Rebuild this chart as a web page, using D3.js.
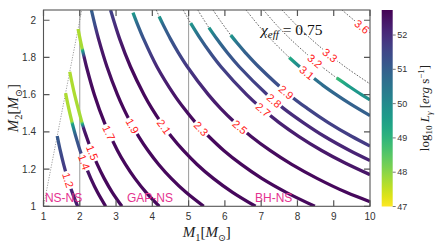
<!DOCTYPE html>
<html>
<head>
<meta charset="utf-8">
<script src="https://cdn.jsdelivr.net/npm/d3@7/dist/d3.min.js"></script>
<style>
  body { margin: 0; background: #fff; }
  svg { display: block; }
</style>
</head>
<body>
<div id="chart"></div>
<script>
// ---- data ----
const xTicks = [1, 2, 3, 4, 5, 6, 7, 8, 9, 10];
const yTicks = [1, 1.2, 1.4, 1.6, 1.8, 2];
const lumTicks = [47, 48, 49, 50, 51, 52];
const lumRange = [47, 52.73];
const regionBounds = [2, 5];
const regionNames = ['NS-NS', 'GAP-NS', 'BH-NS'];
const regionStart = [1.04, 3.30, 6.83];

// chirp-mass contours: [M1, M2, log10 L] (null = no emission, dashed)
const curve12 = [[1.378,1.378,51.1],[1.462,1.3,51.4],[1.555,1.225,51.7],[1.663,1.15,52.0],[1.791,1.075,52.2],[1.942,1.0,52.3]];
const curve14 = [[1.608,1.608,47.7],[1.691,1.53,47.7],[1.781,1.455,47.8],[1.800,1.44,49.6],[1.884,1.38,51.1],[2.008,1.3,51.4],[2.145,1.225,52.3],[2.303,1.15,52.5],[2.489,1.075,52.6],[2.713,1.0,52.6]];
const curve15 = [[1.723,1.723,47.7],[1.858,1.6,47.7],[2.053,1.455,47.8],[2.075,1.44,49.6],[2.105,1.42,52.2],[2.174,1.38,52.5],[2.322,1.3,52.6],[2.483,1.225,52.6],[2.672,1.15,52.6],[2.895,1.075,52.6],[3.161,1.0,52.6]];
const curve17 = [[1.953,1.953,47.7],[2.007,1.9,47.7],[2.063,1.849,47.8],[2.080,1.835,49.6],[2.122,1.8,52.3],[2.184,1.75,52.5],[2.402,1.6,52.6],[2.680,1.45,52.6],[3.038,1.3,52.6],[3.259,1.225,52.6],[3.519,1.15,52.6],[3.826,1.075,52.6],[4.193,1.0,52.6]];
const curve19 = [[2.320,2.055,51.0],[2.417,1.975,51.4],[2.517,1.9,52.3],[2.750,1.75,52.5],[3.038,1.6,52.6],[3.209,1.525,52.6],[3.403,1.45,52.6],[3.625,1.375,52.6],[3.880,1.3,52.6],[4.175,1.225,52.6],[4.521,1.15,52.6],[4.927,1.075,52.6],[5.416,1.0,52.6]];
const curve21 = [[2.848,2.055,51.6],[3.099,1.9,52.3],[3.398,1.75,52.6],[3.771,1.6,52.6],[3.990,1.525,52.6],[4.242,1.45,52.6],[4.525,1.375,52.6],[4.854,1.3,52.6],[5.234,1.225,52.6],[5.680,1.15,52.6],[6.211,1.075,52.6],[6.844,1.0,52.6]];
const curve23 = [[3.466,2.041,49.6],[3.597,1.975,50.9],[3.758,1.9,51.3],[4.127,1.75,52.1],[4.598,1.6,52.4],[4.878,1.525,52.5],[5.190,1.45,52.6],[5.558,1.375,52.6],[5.968,1.3,52.6],[6.454,1.225,52.6],[7.015,1.15,52.6],[7.690,1.075,52.6],[8.479,1.0,52.6]];
const curve25 = [[4.109,2.055,null],[4.188,2.02,49.6],[4.300,1.975,50.9],[4.499,1.9,51.2],[4.719,1.825,51.5],[4.965,1.75,51.8],[5.544,1.6,52.2],[5.886,1.525,52.35],[6.278,1.45,52.45],[6.724,1.375,52.5],[7.244,1.3,52.55],[7.841,1.225,52.6],[8.540,1.15,52.6],[9.345,1.075,52.6],[10,1.025,52.6]];
const curve27 = [[4.850,2.055,null],[4.951,2.02,null],[5.056,1.985,49.7],[5.329,1.9,50.9],[5.596,1.825,51.3],[5.893,1.75,51.6],[6.599,1.6,52.0],[7.017,1.525,52.1],[7.495,1.45,52.2],[8.043,1.375,52.3],[8.666,1.3,52.35],[9.3,1.234,52.4],[10,1.170,52.4]];
const curve28 = [[5.253,2.055,null],[5.395,2.01,null],[5.560,1.96,49.7],[5.776,1.9,50.7],[6.068,1.825,51.1],[6.396,1.75,51.4],[7.169,1.6,51.8],[7.625,1.525,51.95],[8.159,1.45,52.05],[8.750,1.375,52.1],[9.439,1.3,52.15],[10,1.246,52.2]];
const curve29 = [[5.673,2.055,null],[5.900,1.99,null],[6.161,1.92,49.7],[6.349,1.875,50.6],[6.569,1.825,51.0],[6.931,1.75,51.2],[7.770,1.6,51.45],[8.279,1.525,51.55],[8.849,1.45,51.65],[9.502,1.375,51.7],[10,1.324,51.75]];
const curve31 = [[6.583,2.055,null],[7.022,1.95,null],[7.381,1.875,null],[7.773,1.8,49.2],[8.062,1.75,50.2],[8.376,1.7,50.5],[8.703,1.65,50.7],[9.067,1.6,50.85],[9.458,1.55,50.95],[10,1.487,51.0]];
const curve32 = [[7.065,2.055,null],[7.421,1.975,null],[7.798,1.9,null],[8.365,1.8,null],[8.674,1.75,null],[9.080,1.69,48.8],[9.380,1.65,49.5],[9.765,1.6,49.8],[10,1.572,49.9]];
const curve33 = [[7.575,2.055,null],[8.094,1.95,null],[8.665,1.85,null],[9.312,1.75,null],[10,1.658,null]];
const curve36 = [[9.229,2.055,null],[9.561,2.0,null],[10,1.932,null]];
const equalMass = [[1,1],[2.055,2.055]];

// contour label anchors: [level, M1, M2]
const contourLabels = [
  ['1.2',1.662,1.141],['1.4',2.075,1.233],['1.5',2.309,1.286],['1.7',2.778,1.394],
  ['1.9',3.412,1.426],['2.1',4.267,1.421],['2.3',5.314,1.410],['2.5',6.35,1.410],
  ['2.7',7.022,1.512],['2.8',7.325,1.560],['2.9',7.656,1.604],['3.1',8.235,1.711],
  ['3.2',8.456,1.776],['3.3',8.869,1.803],['3.6',9.724,1.954]
];

const contours = [
  {level:'1.2', pts:curve12}, {level:'1.4', pts:curve14}, {level:'1.5', pts:curve15},
  {level:'1.7', pts:curve17}, {level:'1.9', pts:curve19}, {level:'2.1', pts:curve21},
  {level:'2.3', pts:curve23}, {level:'2.5', pts:curve25}, {level:'2.7', pts:curve27},
  {level:'2.8', pts:curve28}, {level:'2.9', pts:curve29}, {level:'3.1', pts:curve31},
  {level:'3.2', pts:curve32}, {level:'3.3', pts:curve33}, {level:'3.6', pts:curve36}
];

// ---- layout ----
const W = 436, H = 246;
const plot = {left: 43.5, right: 370, top: 10, bottom: 206.3};
const cbar = {left: 381.7, width: 11};

const x = d3.scaleLinear().domain([1, 10]).range([plot.left, plot.right]);
const y = d3.scaleLinear().domain([1, 2.055]).range([plot.bottom, plot.top]);
const cy = d3.scaleLinear().domain(lumRange).range([206.5, plot.top]);
const color = d3.scaleSequential(t => d3.interpolateViridis(1 - t)).domain(lumRange);

const svg = d3.select('#chart').append('svg').attr('width', W).attr('height', H);
const defs = svg.append('defs');

defs.append('clipPath').attr('id', 'plotClip').append('rect')
  .attr('x', plot.left).attr('y', plot.top)
  .attr('width', plot.right - plot.left).attr('height', plot.bottom - plot.top);

const line = d3.line()
  .x(d => x(d[0])).y(d => y(d[1]))
  .curve(d3.curveCatmullRom.alpha(0.5));
const straight = d3.line().x(d => x(d[0])).y(d => y(d[1]));

// region boundaries
const plotG = svg.append('g').attr('clip-path', 'url(#plotClip)');
plotG.selectAll('.bound').data(regionBounds).enter().append('line')
  .attr('x1', d => x(d)).attr('x2', d => x(d))
  .attr('y1', plot.top).attr('y2', plot.bottom)
  .attr('stroke', '#9a9a9a').attr('stroke-width', 1);

plotG.append('path').attr('d', straight(equalMass))
  .attr('fill', 'none').attr('stroke', '#777').attr('stroke-width', 0.7)
  .attr('stroke-dasharray', '1.2,1.4');

// labels: place on nearest point of each contour
const labelG = svg.append('g');
const guide = svg.append('g').attr('visibility', 'hidden');

const labelInfo = {};
contourLabels.forEach(l => {
  const c = contours.find(k => k.level === l[0]);
  const p = guide.append('path').attr('d', line(c.pts)).node();
  const total = p.getTotalLength();
  const tx = x(l[1]), ty = y(l[2]);
  let best = 0, bestD = Infinity;
  for (let s = 0; s <= total; s += 0.5) {
    const q = p.getPointAtLength(s);
    const dd = (q.x - tx) ** 2 + (q.y - ty) ** 2;
    if (dd < bestD) { bestD = dd; best = s; }
  }
  const q = p.getPointAtLength(best);
  const a = p.getPointAtLength(Math.max(0, best - 3));
  const b = p.getPointAtLength(Math.min(total, best + 3));
  let ang = Math.atan2(b.y - a.y, b.x - a.x) * 180 / Math.PI;
  if (ang > 90) ang -= 180;
  if (ang < -90) ang += 180;
  const t = labelG.append('text')
    .attr('transform', `translate(${q.x},${q.y}) rotate(${ang})`)
    .attr('text-anchor', 'middle').attr('dy', '0.36em')
    .attr('font-family', 'Liberation Sans, Arial, sans-serif')
    .attr('font-size', 11).attr('fill', '#ff1a1a')
    .text(l[0]);
  labelInfo[l[0]] = {x: q.x, y: q.y, ang: ang, w: t.node().getComputedTextLength()};
});
guide.remove();

// contours
contours.forEach((c, i) => {
  const mask = defs.append('mask').attr('id', 'gap' + i)
    .attr('maskUnits', 'userSpaceOnUse')
    .attr('x', 0).attr('y', 0).attr('width', W).attr('height', H);
  mask.append('rect').attr('width', W).attr('height', H).attr('fill', '#fff');
  const li = labelInfo[c.level];
  if (li) {
    mask.append('rect')
      .attr('x', -li.w / 2 - 1.5).attr('y', -4.5)
      .attr('width', li.w + 3).attr('height', 9)
      .attr('transform', `translate(${li.x},${li.y}) rotate(${li.ang})`)
      .attr('fill', '#000');
  }
  const g = plotG.append('g').attr('mask', `url(#gap${i})`);

  const first = c.pts.findIndex(p => p[2] != null);
  const dashed = first < 0 ? c.pts : c.pts.slice(0, first + 1);
  const solid = first < 0 ? [] : c.pts.slice(first);

  if (dashed.length > 1) {
    g.append('path').attr('d', line(dashed))
      .attr('fill', 'none').attr('stroke', '#333').attr('stroke-width', 0.75)
      .attr('stroke-dasharray', '1.6,1.5');
  }
  if (solid.length > 1) {
    const px = solid.map(p => [x(p[0]), y(p[1]), p[2]]);
    const a = px[0], b = px[px.length - 1];
    const dx = b[0] - a[0], dy = b[1] - a[1], L2 = dx * dx + dy * dy;
    const off = px.map(p => Math.max(0, Math.min(1, ((p[0] - a[0]) * dx + (p[1] - a[1]) * dy) / L2)));
    const grad = defs.append('linearGradient').attr('id', 'lum' + i)
      .attr('gradientUnits', 'userSpaceOnUse')
      .attr('x1', a[0]).attr('y1', a[1]).attr('x2', b[0]).attr('y2', b[1]);
    for (let k = 0; k < px.length - 1; k++) {
      for (let s = 0; s < 4; s++) {
        const t = s / 4;
        grad.append('stop')
          .attr('offset', off[k] + (off[k + 1] - off[k]) * t)
          .attr('stop-color', color(px[k][2] + (px[k + 1][2] - px[k][2]) * t));
      }
    }
    grad.append('stop').attr('offset', off[off.length - 1])
      .attr('stop-color', color(px[px.length - 1][2]));
    g.append('path').attr('d', line(solid))
      .attr('fill', 'none').attr('stroke', `url(#lum${i})`)
      .attr('stroke-width', 3.3);
  }
});
labelG.raise();

// region names
svg.append('g').selectAll('text').data(regionNames).enter().append('text')
  .attr('x', (d, i) => x(regionStart[i])).attr('y', 201.5)
  .attr('font-family', 'Liberation Sans, Arial, sans-serif')
  .attr('font-size', 12).attr('fill', '#e4338f')
  .text(d => d);

// chi_eff annotation
const chi = svg.append('text').attr('x', 261).attr('y', 34.5)
  .attr('font-family', 'Liberation Serif, DejaVu Serif, serif').attr('font-size', 15.5).attr('fill', '#111');
chi.append('tspan').attr('font-style', 'italic').text('χ');
chi.append('tspan').attr('font-style', 'italic').attr('font-size', 11).attr('dy', 3.5).text('eff');
chi.append('tspan').attr('dy', -3.5).text(' = 0.75');

// frame and ticks
const axisColor = '#555';
const tickLen = 6;
const frame = svg.append('g');
frame.append('rect').attr('x', plot.left).attr('y', plot.top)
  .attr('width', plot.right - plot.left).attr('height', plot.bottom - plot.top)
  .attr('fill', 'none').attr('stroke', axisColor).attr('stroke-width', 1.1);

frame.selectAll('.xt').data(xTicks).enter().append('path')
  .attr('d', d => `M${x(d)},${plot.bottom}v${-tickLen}M${x(d)},${plot.top}v${tickLen}`)
  .attr('stroke', axisColor).attr('stroke-width', 1.2);
frame.selectAll('.yt').data(yTicks).enter().append('path')
  .attr('d', d => `M${plot.left},${y(d)}h${tickLen}M${plot.right},${y(d)}h${-tickLen}`)
  .attr('stroke', axisColor).attr('stroke-width', 1.2);

const tickFont = 'Liberation Sans, Arial, sans-serif';
frame.selectAll('.xl').data(xTicks).enter().append('text')
  .attr('x', d => x(d)).attr('y', 220).attr('text-anchor', 'middle')
  .attr('font-family', tickFont).attr('font-size', 10).attr('fill', '#333')
  .text(d => d);
frame.selectAll('.yl').data(yTicks).enter().append('text')
  .attr('x', 36).attr('y', d => y(d)).attr('dy', '0.35em').attr('text-anchor', 'end')
  .attr('font-family', tickFont).attr('font-size', 10).attr('fill', '#333')
  .text(d => d3.format('~g')(d));

// axis titles
const serif = 'Liberation Serif, DejaVu Serif, serif';
function massLabel(sel, sub) {
  sel.append('tspan').attr('font-style', 'italic').text('M');
  sel.append('tspan').attr('font-size', 10.5).attr('dy', 3.5).text(sub);
  sel.append('tspan').attr('dy', -3.5).text('[');
  sel.append('tspan').attr('font-style', 'italic').text('M');
  sel.append('tspan').attr('font-size', 9.5).attr('dy', 3.5).attr('font-family', 'DejaVu Sans, sans-serif').text('⊙');
  sel.append('tspan').attr('dy', -3.5).text(']');
}
const xl = svg.append('text').attr('x', (plot.left + plot.right) / 2).attr('y', 237)
  .attr('text-anchor', 'middle').attr('font-family', serif).attr('font-size', 15).attr('fill', '#222');
massLabel(xl, '1');
const yl = svg.append('text')
  .attr('transform', `translate(18,${(plot.top + plot.bottom) / 2}) rotate(-90)`)
  .attr('text-anchor', 'middle').attr('font-family', serif).attr('font-size', 15).attr('fill', '#222');
massLabel(yl, '2');

// colour bar
const cgrad = defs.append('linearGradient').attr('id', 'cbarGrad')
  .attr('x1', 0).attr('y1', 1).attr('x2', 0).attr('y2', 0);
d3.range(0, 1.0001, 0.05).forEach(t => {
  cgrad.append('stop').attr('offset', t)
    .attr('stop-color', color(lumRange[0] + t * (lumRange[1] - lumRange[0])));
});
svg.append('rect').attr('x', cbar.left).attr('y', cy(lumRange[1]))
  .attr('width', cbar.width).attr('height', cy(lumRange[0]) - cy(lumRange[1]))
  .attr('fill', 'url(#cbarGrad)');
const cax = svg.append('g');
cax.selectAll('path').data(lumTicks).enter().append('path')
  .attr('d', d => `M${cbar.left + cbar.width},${cy(d)}h3`)
  .attr('stroke', '#555').attr('stroke-width', 0.8);
cax.selectAll('text').data(lumTicks).enter().append('text')
  .attr('x', cbar.left + cbar.width + 4.5).attr('y', d => cy(d)).attr('dy', '0.35em')
  .attr('font-family', tickFont).attr('font-size', 9).attr('fill', '#333')
  .text(d => d);

const cl = svg.append('text')
  .attr('transform', `translate(429,108) rotate(-90)`)
  .attr('text-anchor', 'middle').attr('font-family', serif).attr('font-size', 13).attr('fill', '#222');
cl.append('tspan').text('log');
cl.append('tspan').attr('font-size', 9).attr('dy', 3).text('10');
cl.append('tspan').attr('dy', -3).attr('font-style', 'italic').text(' L');
cl.append('tspan').attr('font-size', 9).attr('dy', 3).attr('font-style', 'italic').text('γ');
cl.append('tspan').attr('dy', -3).text(' [');
cl.append('tspan').attr('font-style', 'italic').text('erg');
cl.append('tspan').text(' s');
cl.append('tspan').attr('font-size', 9).attr('dy', -5).text('−1');
cl.append('tspan').attr('dy', 5).text(']');
</script>
</body>
</html>
